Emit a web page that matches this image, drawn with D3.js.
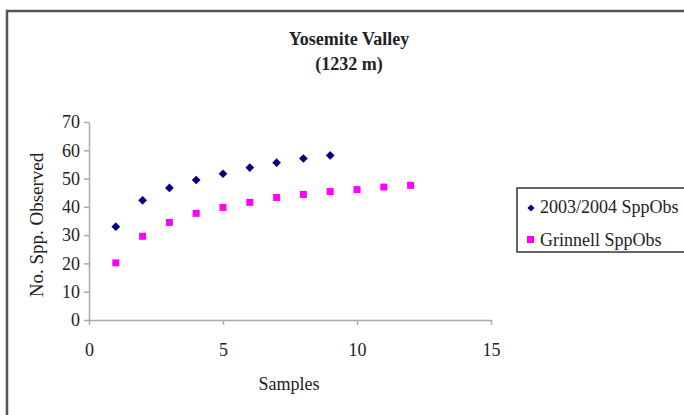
<!DOCTYPE html>
<html>
<head>
<meta charset="utf-8">
<script src="https://cdn.jsdelivr.net/npm/d3@7"></script>
<style>
  body { margin: 0; background: #fff; }
  svg { display: block; font-family: "Liberation Serif", "Times New Roman", serif; }
  .tick text { fill: #222; font-size: 18px; }
</style>
</head>
<body>
<svg id="chart" width="684" height="415"></svg>
<script>
// Data
const samples = [1, 2, 3, 4, 5, 6, 7, 8, 9, 10, 11, 12];
const recentObs = [33, 42.3, 46.7, 49.5, 51.7, 53.9, 55.6, 57.1, 58.2];
const grinnellObs = [20.2, 29.6, 34.5, 37.7, 39.8, 41.6, 43.3, 44.4, 45.4, 46.1, 47.0, 47.6];
const xTicks = [0, 5, 10, 15];
const yTicks = [0, 10, 20, 30, 40, 50, 60, 70];
const seriesNames = ["2003/2004 SppObs", "Grinnell SppObs"];

const svg = d3.select("#chart");

// outer frame (runs past right / bottom edges)
svg.append("rect")
   .attr("x", 7).attr("y", 11)
   .attr("width", 720).attr("height", 440)
   .attr("fill", "none")
   .attr("stroke", "#555")
   .attr("stroke-width", 2.5);

const x = d3.scaleLinear().domain([0, 15]).range([89, 491]);
const y = d3.scaleLinear().domain([0, 70]).range([320, 122]);

// title
const title = svg.append("text")
   .attr("x", 349).attr("y", 45)
   .attr("text-anchor", "middle")
   .attr("font-weight", "bold")
   .attr("font-size", 18)
   .attr("fill", "#222");
title.append("tspan").attr("x", 349).text("Yosemite Valley");
title.append("tspan").attr("x", 349).attr("dy", 25).text("(1232 m)");

// axes
const xAxis = svg.append("g")
   .attr("transform", `translate(0,${y(0)})`)
   .call(d3.axisBottom(x).tickValues(xTicks).tickSize(5).tickPadding(18).tickSizeOuter(0));
const yAxis = svg.append("g")
   .attr("transform", `translate(${x(0)},0)`)
   .call(d3.axisLeft(y).tickValues(yTicks).tickSize(5).tickPadding(4).tickSizeOuter(0));
[xAxis, yAxis].forEach(a => {
  a.attr("font-family", null).attr("font-size", null);
  a.select(".domain").attr("stroke", "#aaa").attr("stroke-width", 1.5);
  a.selectAll(".tick line").attr("stroke", "#aaa").attr("stroke-width", 1.5);
});

// axis labels
svg.append("text")
   .attr("x", 289).attr("y", 390)
   .attr("text-anchor", "middle")
   .attr("font-size", 18).attr("fill", "#222")
   .text("Samples");
svg.append("text")
   .attr("transform", "translate(43,225) rotate(-90)")
   .attr("text-anchor", "middle")
   .attr("font-size", 19).attr("fill", "#222")
   .text("No. Spp. Observed");

// points: diamonds are squares turned 45 degrees
const square = d3.symbol().type(d3.symbolSquare);
svg.append("g").selectAll("path")
   .data(recentObs)
   .enter().append("path")
   .attr("d", square.size(38))
   .attr("transform", (d, i) => `translate(${x(samples[i])},${y(d)}) rotate(45)`)
   .attr("fill", "#000080");

svg.append("g").selectAll("rect")
   .data(grinnellObs)
   .enter().append("rect")
   .attr("x", (d, i) => x(samples[i]) - 3.5)
   .attr("y", d => y(d) - 3.5)
   .attr("width", 7).attr("height", 7)
   .attr("fill", "#ff00ff");

// legend
const legend = svg.append("g");
legend.append("rect")
   .attr("x", 517).attr("y", 188)
   .attr("width", 200).attr("height", 64)
   .attr("fill", "#fff")
   .attr("stroke", "#333")
   .attr("stroke-width", 1.5);
legend.append("path")
   .attr("d", d3.symbol().type(d3.symbolSquare).size(26))
   .attr("transform", "translate(531,208) rotate(45)")
   .attr("fill", "#000080");
legend.append("rect")
   .attr("x", 527).attr("y", 236)
   .attr("width", 7).attr("height", 7)
   .attr("fill", "#ff00ff");
legend.selectAll("text.lbl")
   .data(seriesNames)
   .enter().append("text")
   .attr("class", "lbl")
   .attr("x", 540)
   .attr("y", (d, i) => 213 + i * 33)
   .attr("font-size", 18).attr("fill", "#222")
   .text(d => d);
</script>
</body>
</html>
